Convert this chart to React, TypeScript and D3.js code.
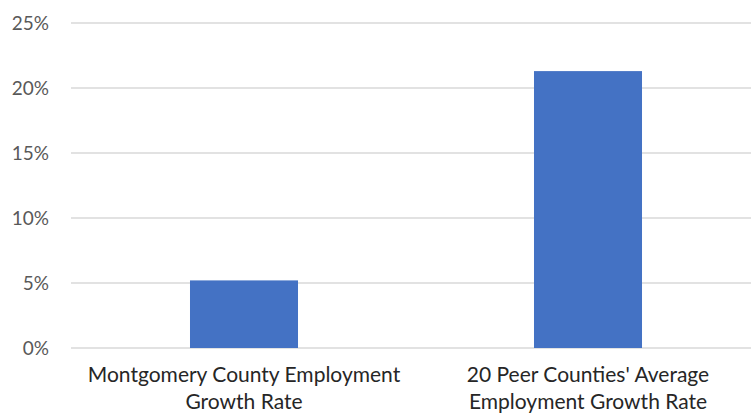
import * as d3 from "d3";
import { useEffect, useRef } from "react";

const categories = [
  ["Montgomery County Employment", "Growth Rate"],
  ["20 Peer Counties' Average", "Employment Growth Rate"],
];
const values = [0.052, 0.213];
const yTicks = [0, 0.05, 0.1, 0.15, 0.2, 0.25];

export default function App() {
  const ref = useRef<SVGSVGElement | null>(null);

  useEffect(() => {
    if (!ref.current) return;
    const svg = d3.select(ref.current);
    svg.selectAll("*").remove();

    const width = 751;
    const height = 415;
    const font = "Lato, 'Open Sans', sans-serif";

    const x = d3
      .scaleBand<number>()
      .domain(categories.map((_, i) => i))
      .range([72, 760])
      .paddingInner(0.686)
      .paddingOuter(0.343);

    const y = d3.scaleLinear().domain([0, 0.25]).range([348, 23]);

    // gridlines
    svg
      .append("g")
      .selectAll("line")
      .data(yTicks)
      .enter()
      .append("line")
      .attr("x1", 71)
      .attr("x2", width)
      .attr("y1", (d) => y(d))
      .attr("y2", (d) => y(d))
      .attr("stroke", "#d9d9d9")
      .attr("stroke-width", 1.5);

    // y labels
    svg
      .append("g")
      .selectAll("text")
      .data(yTicks)
      .enter()
      .append("text")
      .attr("x", 49)
      .attr("y", (d) => y(d))
      .attr("dy", "0.36em")
      .attr("text-anchor", "end")
      .style("font-family", font)
      .style("font-size", "19px")
      .style("fill", "#595959")
      .text((d) => d3.format(".0%")(d));

    // bars
    svg
      .append("g")
      .selectAll("rect")
      .data(values)
      .enter()
      .append("rect")
      .attr("x", (_, i) => x(i)!)
      .attr("y", (d) => y(d))
      .attr("width", x.bandwidth())
      .attr("height", (d) => y(0) - y(d))
      .attr("fill", "#4472c4");

    // category labels
    const lbl = svg
      .append("g")
      .selectAll("text")
      .data(categories)
      .enter()
      .append("text")
      .attr("text-anchor", "middle")
      .style("font-family", font)
      .style("font-size", "21px")
      .style("fill", "#262626");
    lbl
      .selectAll("tspan")
      .data((d, i) => d.map((t) => ({ t, i })))
      .enter()
      .append("tspan")
      .attr("x", (d) => x(d.i)! + x.bandwidth() / 2)
      .attr("y", (_, j) => 382 + j * 27)
      .text((d) => d.t);

    svg.attr("width", width).attr("height", height);
  }, []);

  return (
    <svg
      ref={ref}
      width={751}
      height={415}
      style={{ position: "absolute", left: 0, top: 0, background: "#fff" }}
    />
  );
}
